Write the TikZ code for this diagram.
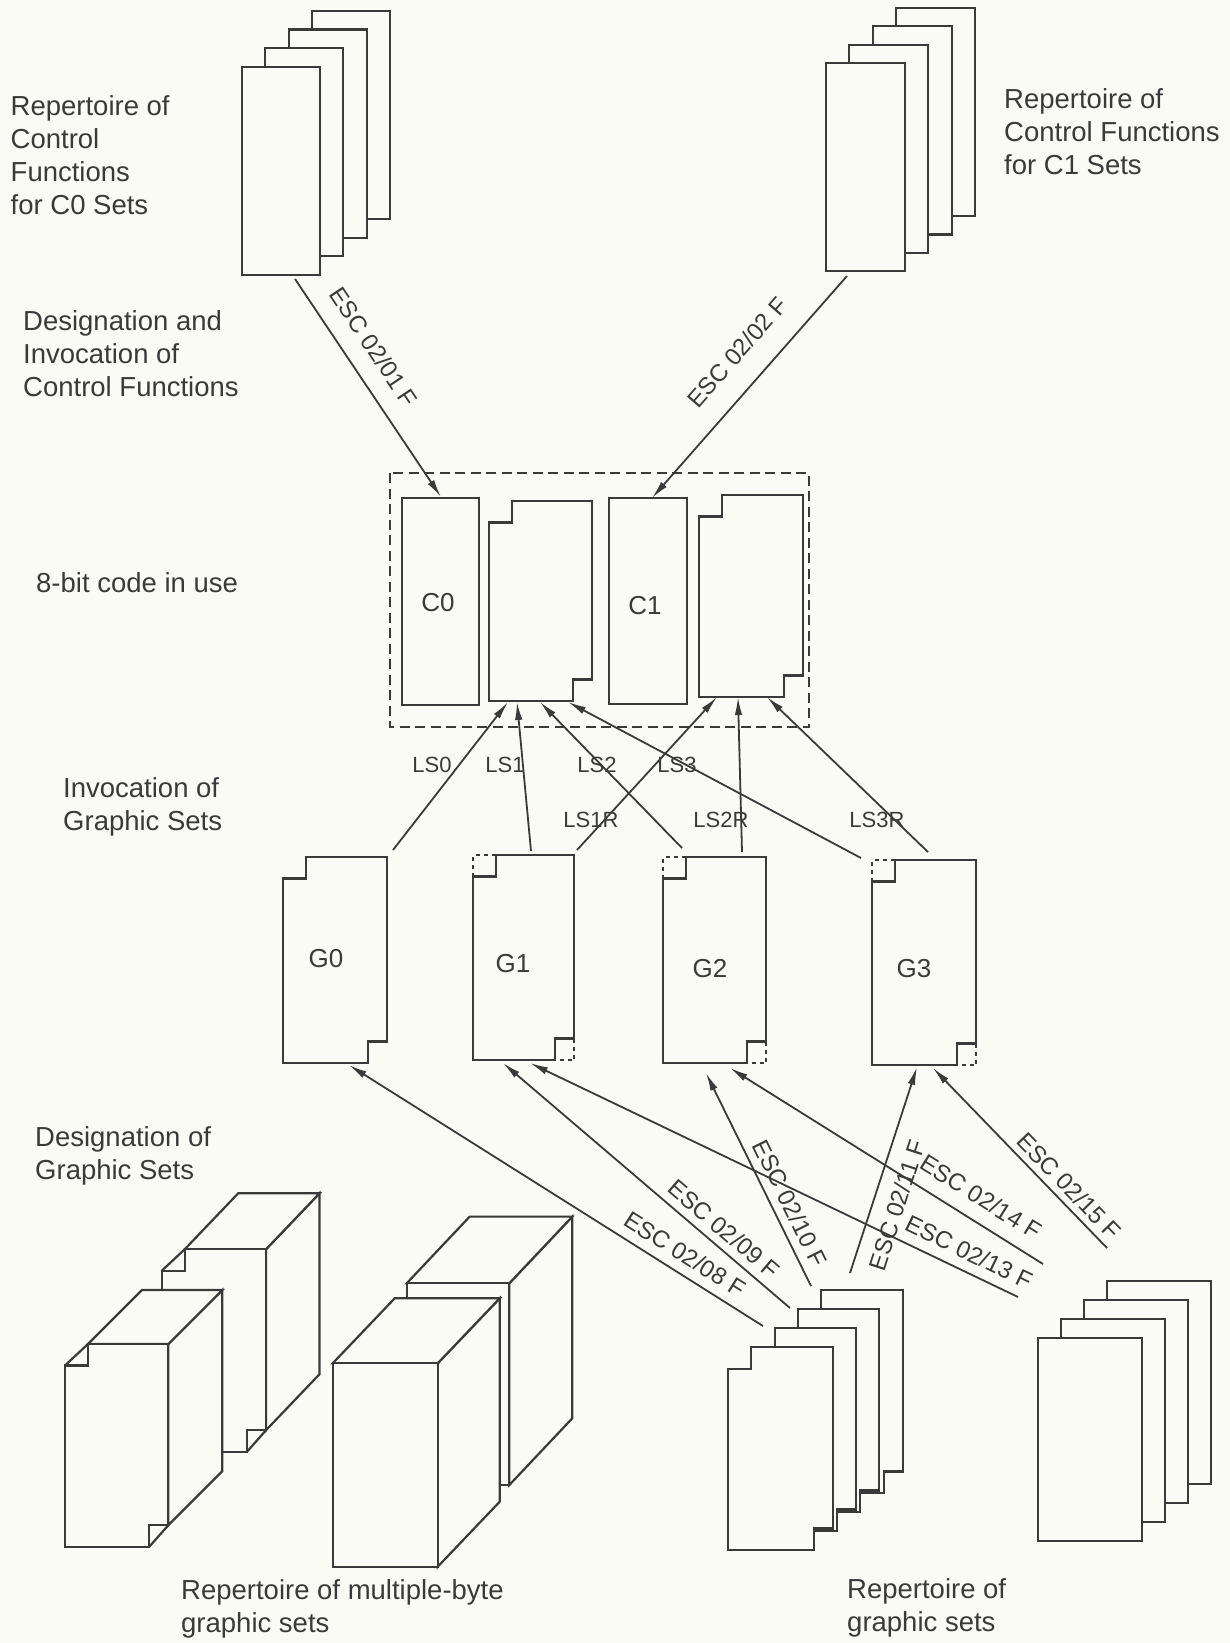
\documentclass[tikz,border=0pt]{standalone}
\usepackage{fontspec}
\setmainfont{Liberation Sans}
\usetikzlibrary{arrows.meta}
\definecolor{ink}{RGB}{58,58,58}
\definecolor{paper}{RGB}{251,251,246}
\newcommand\fmain{\fontsize{27.5pt}{33pt}\selectfont}
\newcommand\fesc{\fontsize{24pt}{28pt}\selectfont}
\newcommand\fls{\fontsize{22pt}{26pt}\selectfont}
\newcommand\fbl{\fontsize{26pt}{30pt}\selectfont}
% stepped set shape: left, top, right, bottom
\newcommand\stepbox[4]{\draw[bx] (#1,#2+21.5) -- (#1+23,#2+21.5) -- (#1+23,#2) -- (#3,#2) -- (#3,#4-21.5) -- (#3-19,#4-21.5) -- (#3-19,#4) -- (#1,#4) -- cycle;}
\newcommand\dotcorners[4]{\draw[dotc] (#1,#2+21.5) -- (#1,#2) -- (#1+23,#2); \draw[dotc] (#3,#4-21.5) -- (#3,#4) -- (#3-19,#4);}
% cube with plain front: left, top, right, bottom, dx, dy(up)
\newcommand\cubeplain[6]{%
 \draw[bx] (#3,#2) -- (#3+#5,#2-#6) -- (#3+#5,#4-#6) -- (#3,#4) -- cycle;
 \draw[bx] (#1,#2) -- (#1+#5,#2-#6) -- (#3+#5,#2-#6) -- (#3,#2) -- cycle;
 \draw[bx] (#1,#2) rectangle (#3,#4);}
% cube with stepped front
\newcommand\cubestep[6]{%
 \draw[bx] (#3,#2) -- (#3+#5,#2-#6) -- (#3+#5,#4-21.5-#6) -- (#3,#4-21.5) -- cycle;
 \draw[bx] (#1+23,#2) -- (#1+23+#5,#2-#6) -- (#3+#5,#2-#6) -- (#3,#2) -- cycle;
 \stepbox{#1}{#2}{#3}{#4}
 \draw[bx] (#1,#2+21.5) -- (#1+23,#2);
 \draw[bx] (#3-19,#4) -- (#3,#4-21.5);}
\tikzset{
 bx/.style={draw=ink, line width=2.2pt, fill=paper, line join=miter},
 ln/.style={draw=ink, line width=1.8pt},
 arr/.style={ln, -{Latex[length=18pt,width=7.5pt]}},
 dotc/.style={draw=ink, line width=2.2pt, dash pattern=on 4pt off 4pt},
 dashbox/.style={draw=ink, line width=2pt, dash pattern=on 10pt off 5.5pt},
 txt/.style={align=left, inner sep=0pt, font=\fmain, text=ink, anchor=north west},
 esc/.style={inner sep=0pt, font=\fesc, text=ink},
 lsl/.style={inner sep=0pt, font=\fls, text=ink},
 blab/.style={inner sep=0pt, font=\fbl, text=ink}
}
\begin{document}
\begin{tikzpicture}[x=1pt,y=-1pt]
\fill[paper] (0,0) rectangle (1230,1643);
\useasboundingbox (0,0) rectangle (1230,1643);

% ---- top card stacks ----
\foreach \i in {3,2,1,0}{
 \begin{scope}[shift={(\i*23.3,-\i*18.7)}]
  \draw[bx] (242,67) rectangle (320,275);
 \end{scope}
 \begin{scope}[shift={(\i*23.3,-\i*18.3)}]
  \draw[bx] (826,63) rectangle (905,271);
 \end{scope}
}

% ---- 8-bit code in use ----
\draw[dashbox] (390,473) rectangle (809,727);
\draw[bx] (402,498) rectangle (479,705);
\stepbox{489}{501}{592}{701}
\draw[bx] (609,498) rectangle (687,704);
\stepbox{699}{495}{803}{697}
\node[blab] (c0) at (438,603) {C0};
\node[blab] (c1) at (645,606) {C1};

% ---- G sets ----
\stepbox{283}{857}{387}{1063}
\stepbox{473}{855}{574}{1060}
\dotcorners{473}{855}{574}{1060}
\stepbox{663}{857}{766}{1063}
\dotcorners{663}{857}{766}{1063}
\stepbox{872}{860}{976}{1065}
\dotcorners{872}{860}{976}{1065}
\node[blab] (g0) at (326,959) {G0};
\node[blab] (g1) at (513,964) {G1};
\node[blab] (g2) at (710,969) {G2};
\node[blab] (g3) at (914,969) {G3};

% ---- cubes (multiple-byte sets) ----
\cubestep{161.7}{1249.3}{266}{1451.7}{53.5}{56}
\cubestep{65}{1344}{168.3}{1546.7}{54}{54}
\cubeplain{406.7}{1283.3}{509.3}{1485}{63}{66.7}
\cubeplain{332.7}{1363.3}{437.7}{1566.7}{62}{65}

% ---- bottom card stacks ----
\foreach \i in {3,2,1,0}{
 \begin{scope}[shift={(\i*23.3,-\i*19)}]
  \stepbox{728.3}{1347.3}{832.7}{1550}
 \end{scope}
 \begin{scope}[shift={(\i*23,-\i*19)}]
  \draw[bx] (1037.7,1338.3) rectangle (1141.7,1541);
 \end{scope}
}

% ---- connector end points ----
\coordinate (e01s) at (295,279);  \coordinate (e01t) at (441,497);
\coordinate (e02s) at (847,276);  \coordinate (e02t) at (652,498);
\coordinate (ls0s) at (393,850);  \coordinate (ls0t) at (508,702);
\coordinate (ls1s) at (531,851);  \coordinate (ls1t) at (517,702);
\coordinate (ls2s) at (682,848);  \coordinate (ls2t) at (540,702);
\coordinate (ls3s) at (861,858);  \coordinate (ls3t) at (568,702);
\coordinate (l1rs) at (577,850);  \coordinate (l1rt) at (717,697);
\coordinate (l2rs) at (742,852);  \coordinate (l2rt) at (738,697);
\coordinate (l3rs) at (928,852);  \coordinate (l3rt) at (767,697);
\coordinate (b08s) at (763,1326); \coordinate (b08t) at (349,1065);
\coordinate (b09s) at (790,1308); \coordinate (b09t) at (503,1063);
\coordinate (b13s) at (1018,1297);\coordinate (b13t) at (530,1063);
\coordinate (b10s) at (811,1286); \coordinate (b10t) at (706,1073);
\coordinate (b14s) at (1043,1264);\coordinate (b14t) at (730,1068);
\coordinate (b11s) at (850,1273); \coordinate (b11t) at (917,1067);
\coordinate (b15s) at (1107,1248);\coordinate (b15t) at (933,1068);

\foreach \a in {e01,e02,ls0,ls1,ls2,ls3,l1r,l2r,l3r,b08,b09,b13,b10,b14,b11,b15}
 \draw[arr] (\a s) -- (\a t);

% ---- connector labels ----
\node[esc, rotate=-56.3] (t01) at (374,347) {ESC 02/01 F};
\node[esc, rotate=48.7] (t02) at (737,352) {ESC 02/02 F};
\node[esc, rotate=-32.3] (t08) at (685,1254) {ESC 02/08 F};
\node[esc, rotate=-40.7] (t09) at (724,1229) {ESC 02/09 F};
\node[esc, rotate=-63.8] (t10) at (790,1203) {ESC 02/10 F};
\node[esc, rotate=72.1] (t11) at (897,1205) {ESC 02/11 F};
\node[esc, rotate=-25.8] (t13) at (969,1252) {ESC 02/13 F};
\node[esc, rotate=-32] (t14) at (981,1197) {ESC 02/14 F};
\node[esc, rotate=-46] (t15) at (1069,1186) {ESC 02/15 F};

\node[lsl] (n0) at (432,765) {LS0};
\node[lsl] (n1) at (505,765) {LS1};
\node[lsl] (n2) at (597,765) {LS2};
\node[lsl] (n3) at (677,765) {LS3};
\node[lsl] (n1r) at (591,820) {LS1R};
\node[lsl] (n2r) at (721,820) {LS2R};
\node[lsl] (n3r) at (877,820) {LS3R};

% ---- text blocks ----
\node[txt] (tl) at (10.5,95) {Repertoire of\\Control\\Functions\\for C0 Sets};
\node[txt] (tr) at (1004,88) {Repertoire of\\Control Functions\\for C1 Sets};
\node[txt] (dc) at (23,310) {Designation and\\Invocation of\\Control Functions};
\node[txt] (eb) at (36,572) {8-bit code in use};
\node[txt] (ig) at (63,777) {Invocation of\\Graphic Sets};
\node[txt] (dg) at (35,1126) {Designation of\\Graphic Sets};
\node[txt] (mb) at (181,1579) {Repertoire of multiple-byte\\graphic sets};
\node[txt] (gs) at (847,1578) {Repertoire of\\graphic sets};
\end{tikzpicture}
\end{document}
